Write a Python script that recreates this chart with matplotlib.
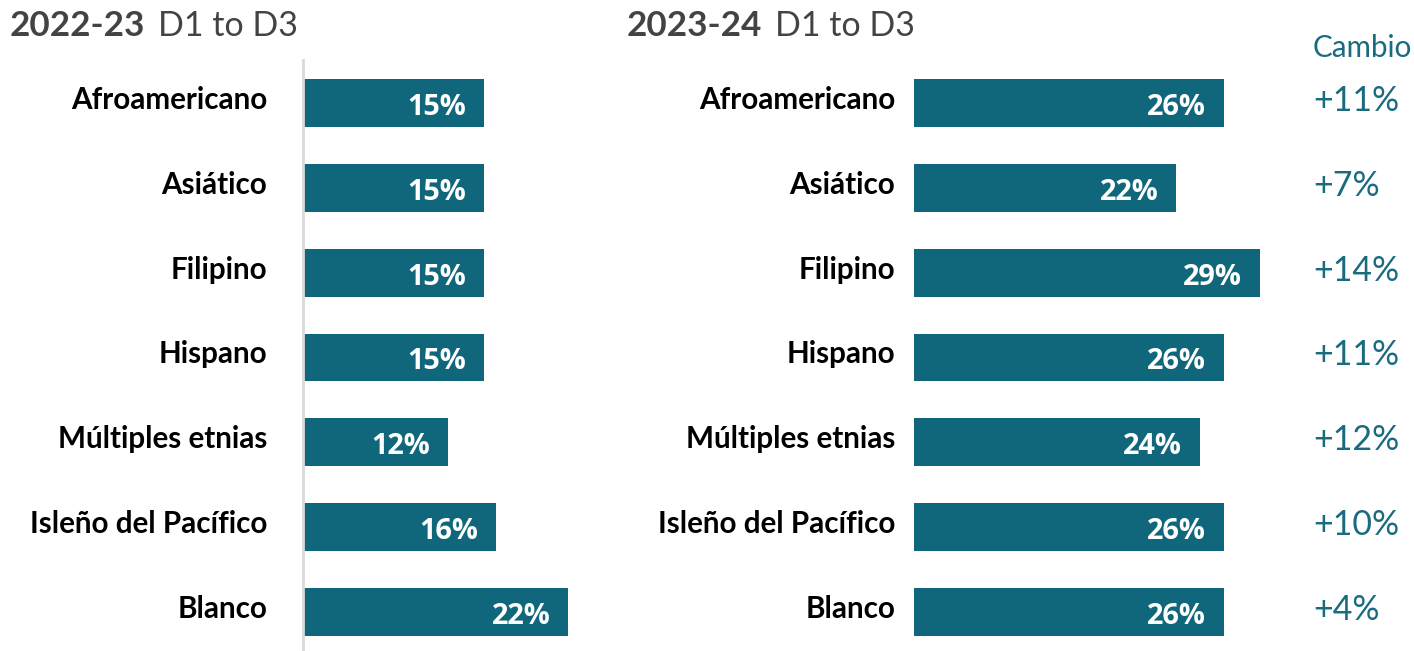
import matplotlib
matplotlib.use("Agg")
import matplotlib.pyplot as plt

categories = ["Afroamericano", "Asiático", "Filipino", "Hispano",
              "Múltiples etnias", "Isleño del Pacífico", "Blanco"]
vals_2223 = [15, 15, 15, 15, 12, 16, 22]
vals_2324 = [26, 22, 29, 26, 24, 26, 26]
changes = ["+11%", "+7%", "+14%", "+11%", "+12%", "+10%", "+4%"]

BAR = "#10677c"
TEAL = "#1a6b80"
TITLE = "#434343"

W, H = 1414, 651
fig = plt.figure(figsize=(W / 100, H / 100), dpi=100)
fig.patch.set_facecolor("white")

def px_axes(x0, x1, y0, y1):
    return fig.add_axes([x0 / W, 1 - y1 / H, (x1 - x0) / W, (y1 - y0) / H])

top, bot = 60, 651
ylo = (top - 103) / 84.83
yhi = (bot - 103) / 84.83

def panel(ax, vals, xmax, show_spine, gap):
    y = list(range(len(categories)))
    ax.barh(y, vals, height=0.565, color=BAR)
    ax.set_xlim(0, xmax)
    ax.set_ylim(yhi, ylo)
    for s in ["top", "right", "bottom"]:
        ax.spines[s].set_visible(False)
    if show_spine:
        ax.spines["left"].set_color("#d9d9d9")
        ax.spines["left"].set_linewidth(2)
    else:
        ax.spines["left"].set_visible(False)
    ax.set_xticks([])
    ax.set_yticks([])
    for yi, cat in zip(y, categories):
        ax.annotate(cat, (0, yi), xytext=(-gap, 3), textcoords="offset pixels",
                    ha="right", va="center", color="black",
                    fontfamily="Lato", fontweight="bold", fontsize=21.3,
                    annotation_clip=False)
    for yi, v in zip(y, vals):
        ax.annotate(f"{v}%", (v, yi), xytext=(-18, -1), textcoords="offset pixels",
                    ha="right", va="center_baseline", color="white",
                    fontfamily="Open Sans", fontweight="bold", fontsize=20.8)

ax1 = px_axes(303, 303 + 12.06 * 25, top, bot)
panel(ax1, vals_2223, 25, True, 36)
ax2 = px_axes(914, 914 + 11.92 * 32, top, bot)
panel(ax2, vals_2324, 32, False, 19)

def ftext(x, y, s, **kw):
    fig.text(x / W, 1 - y / H, s, **kw)

ftext(10, 36, "2022-23", fontfamily="Lato", fontweight="bold", fontsize=25.2,
      color=TITLE, va="baseline")
ftext(158, 36, "D1 to D3", fontfamily="Lato", fontsize=24.5, color=TITLE, va="baseline")
ftext(627, 36, "2023-24", fontfamily="Lato", fontweight="bold", fontsize=25.2,
      color=TITLE, va="baseline")
ftext(775, 36, "D1 to D3", fontfamily="Lato", fontsize=24.5, color=TITLE, va="baseline")

ftext(1313, 57, "Cambio", fontfamily="Lato", fontsize=21.3, color=TEAL, va="baseline")

for i, c in enumerate(changes):
    yc = 101 + 84.83 * i
    ftext(1313, yc, c, fontfamily="Lato", fontsize=24.4, color=TEAL, va="center")

fig.savefig("out.png", dpi=100, facecolor="white")
